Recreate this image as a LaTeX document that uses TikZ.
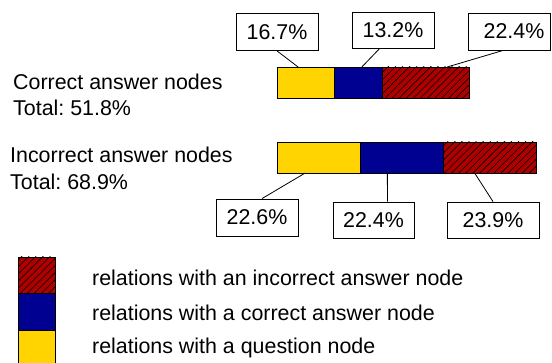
\documentclass[tikz,border=0pt]{standalone}
\usepackage{fontspec}
\setmainfont{Liberation Sans}
\usetikzlibrary{positioning,calc,patterns.meta}
\definecolor{barYellow}{RGB}{255,212,0}
\definecolor{barBlue}{RGB}{0,0,145}
\definecolor{barRed}{RGB}{175,0,0}
\frenchspacing

\begin{document}
\begin{tikzpicture}[
        x=1pt, y=-1pt,
        every node/.style={font=\fontsize{21.4}{26.5}\selectfont},
        seg/.style={rectangle, draw=black, line width=0.9pt, inner sep=0pt, outer sep=0pt, minimum height=31pt},
        hatched/.style={seg, fill=barRed, pattern={Lines[angle=45,distance=5pt,line width=0.6pt]}, pattern color=black},
        pct/.style={rectangle, draw=black, line width=0.8pt, fill=white, inner sep=0pt, minimum width=82pt, minimum height=37pt},
        leader/.style={line width=0.8pt},
        label/.style={anchor=west, inner sep=0pt, align=left},
        swatch/.style={rectangle, draw=black, line width=0.9pt, inner sep=0pt, outer sep=0pt, minimum width=37pt, minimum height=36.5pt, anchor=north west}
    ]
        \useasboundingbox (0,0) rectangle (552,363);

        % correct answer nodes
        \node[label] (cl) at (13,95) {Correct answer nodes\\Total: 51.8\%};
        \node[seg, fill=barYellow, minimum width=57pt, anchor=north west] (cy) at (277,67) {};
        \node[seg, fill=barBlue, minimum width=48pt, right=0pt of cy] (cb) {};
        \node[seg, fill=barRed, minimum width=87pt, right=0pt of cb] (cr) {};
        \node[hatched, minimum width=87pt, right=0pt of cb] {};

        \node[pct] (cpy) at (277,32) {16.7\%};
        \node[pct, minimum height=36pt] (cpb) at (393,30) {13.2\%};
        \node[pct] (cpr) at (509,31.5) {\hspace*{10pt}22.4\%};

        \draw[leader] (cpy.south) -- ($(cy.north west)!0.37!(cy.north east)$);
        \draw[leader] ($(cpb.south west)!0.34!(cpb.south east)$) -- ($(cb.north west)!0.58!(cb.north east)$);
        \draw[leader] ($(cpr.south west)!0.43!(cpr.south east)$) -- ($(cr.north west)!0.75!(cr.north east)$);

        % incorrect answer nodes
        \node[label] (il) at (10,168.5) {Incorrect answer nodes\\Total: 68.9\%};
        \node[seg, fill=barYellow, minimum width=83pt, anchor=north west] (iy) at (277,142) {};
        \node[seg, fill=barBlue, minimum width=83pt, right=0pt of iy] (ib) {};
        \node[seg, fill=barRed, minimum width=93pt, right=0pt of ib] (ir) {};
        \node[hatched, minimum width=93pt, right=0pt of ib] {};

        \node[pct] (ipy) at (257,217.5) {22.6\%};
        \node[pct, minimum width=81pt, minimum height=36pt] (ipb) at (373.5,220) {22.4\%};
        \node[pct, minimum width=92pt, minimum height=36pt] (ipr) at (493,220) {23.9\%};

        \draw[leader] ($(ipy.north west)!0.56!(ipy.north east)$) -- ($(iy.south west)!0.34!(iy.south east)$);
        \draw[leader] ($(ipb.north west)!0.67!(ipb.north east)$) -- ($(ib.south west)!0.33!(ib.south east)$);
        \draw[leader] (ipr.north) -- ($(ir.south west)!0.34!(ir.south east)$);

        % legend
        \node[swatch, fill=barRed] (kr) at (18,257) {};
        \node[swatch, pattern={Lines[angle=45,distance=5pt,line width=0.6pt]}, pattern color=black] at (18,257) {};
        \node[swatch, fill=barBlue, below=0pt of kr] (kb) {};
        \node[swatch, fill=barYellow, below=0pt of kb] (ky) {};

        \node[label] at (92,278) {relations with an incorrect answer node};
        \node[label] at (92,313) {relations with a correct answer node};
        \node[label] at (92,348) {relations with a question node};
    \end{tikzpicture}
\end{document}
